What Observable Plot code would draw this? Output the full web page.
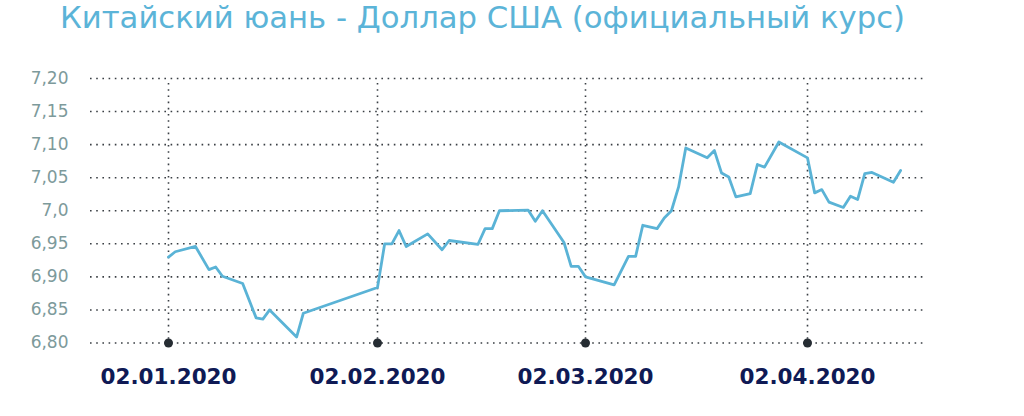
<!DOCTYPE html>
<html>
<head>
<meta charset="utf-8">
<script src="https://cdn.jsdelivr.net/npm/d3@7"></script>
<script src="https://cdn.jsdelivr.net/npm/@observablehq/plot@0.6"></script>
<style>
  html, body { margin: 0; padding: 0; background: #fff; }
  #title {
    font-family: "DejaVu Sans", sans-serif;
    font-size: 30.7px;
    line-height: 36px;
    height: 36px;
    color: #5bb4d8;
    padding-left: 60px;
    white-space: nowrap;
  }
</style>
</head>
<body>
<div id="title">Китайский юань - Доллар США (официальный курс)</div>
<div id="chart"></div>
<script>
// ---- data ----
const dates = [
  "2020-01-02","2020-01-03","2020-01-06","2020-01-08","2020-01-09","2020-01-10","2020-01-13",
  "2020-01-15","2020-01-16","2020-01-17","2020-01-21","2020-01-22",
  "2020-02-02","2020-02-03","2020-02-04","2020-02-05","2020-02-06","2020-02-09","2020-02-11",
  "2020-02-12","2020-02-16","2020-02-17","2020-02-18","2020-02-19","2020-02-23","2020-02-24",
  "2020-02-25","2020-02-28","2020-02-29","2020-03-01",
  "2020-03-02","2020-03-06","2020-03-08","2020-03-09","2020-03-10","2020-03-12","2020-03-13",
  "2020-03-14","2020-03-15","2020-03-16","2020-03-19","2020-03-20","2020-03-21","2020-03-22",
  "2020-03-23","2020-03-25","2020-03-26","2020-03-27","2020-03-29",
  "2020-04-02","2020-04-03","2020-04-04","2020-04-05","2020-04-07","2020-04-08","2020-04-09",
  "2020-04-10","2020-04-11","2020-04-14","2020-04-15"
];
const rates = [
  6.930, 6.938, 6.946, 6.911, 6.915, 6.901, 6.890,
  6.838, 6.836, 6.850, 6.809, 6.845,
  6.884, 6.950, 6.950, 6.970, 6.946, 6.965, 6.941,
  6.955, 6.949, 6.973, 6.973, 7.000, 7.001, 6.984,
  7.000, 6.952, 6.916, 6.916,
  6.900, 6.888, 6.931, 6.931, 6.978, 6.973, 6.989,
  7.000, 7.036, 7.095, 7.080, 7.091, 7.057, 7.051,
  7.021, 7.026, 7.070, 7.066, 7.104,
  7.080, 7.027, 7.032, 7.013, 7.005, 7.022, 7.017,
  7.056, 7.058, 7.043, 7.061
];
const xTickDates = ["2020-01-02","2020-02-02","2020-03-02","2020-04-02"];
const xTickLabels = ["02.01.2020","02.02.2020","02.03.2020","02.04.2020"];
const yTicks = [6.80, 6.85, 6.90, 6.95, 7.00, 7.05, 7.10, 7.15, 7.20];
const yTickLabels = ["6,80","6,85","6,90","6,95","7,0","7,05","7,10","7,15","7,20"];

// ---- build ----
const parse = d3.utcParse("%Y-%m-%d");
const data = dates.map((d, i) => ({date: parse(d), rate: rates[i]}));
const xTicks = xTickDates.map(parse);
const xLabelOf = new Map(xTicks.map((d, i) => [+d, xTickLabels[i]]));
const yLabelOf = new Map(yTicks.map((v, i) => [v, yTickLabels[i]]));

const lineColor = "#5ab3d6";
const gridColor = "#3a3f44";
const navy = "#0f1a55";

const chart = Plot.plot({
  width: 1024,
  height: 380,
  marginLeft: 90,
  marginRight: 97,
  marginTop: 42,
  marginBottom: 73.5,
  style: {background: "transparent", fontFamily: "DejaVu Sans, sans-serif"},
  x: {type: "utc", domain: xTicks, range: [168, 377, 585, 807]},
  y: {domain: [yTicks[0], yTicks[yTicks.length - 1]]},
  marks: [
    Plot.ruleY(yTicks, {stroke: gridColor, strokeWidth: 1.6, strokeDasharray: "1.6,4.6"}),
    Plot.ruleX(xTicks, {stroke: gridColor, strokeWidth: 1.6, strokeDasharray: "1.6,4.6", insetTop: 5}),
    Plot.axisY({
      ticks: yTicks,
      tickFormat: v => yLabelOf.get(v),
      tickSize: 0,
      tickPadding: 22,
      fontSize: 17,
      color: "#7d9a9b",
      label: null
    }),
    Plot.axisX({
      ticks: xTicks,
      tickFormat: d => xLabelOf.get(+d),
      tickSize: 0,
      tickPadding: 25.5,
      fontSize: 21.5,
      fontWeight: "bold",
      color: navy,
      label: null
    }),
    Plot.line(data, {x: "date", y: "rate", stroke: lineColor, strokeWidth: 2.8, strokeLinejoin: "round"}),
    Plot.dot(xTicks, {x: d => d, y: () => yTicks[0], r: 4.5, fill: "#262d33", stroke: null})
  ]
});
document.getElementById("chart").appendChild(chart);
</script>
</body>
</html>
